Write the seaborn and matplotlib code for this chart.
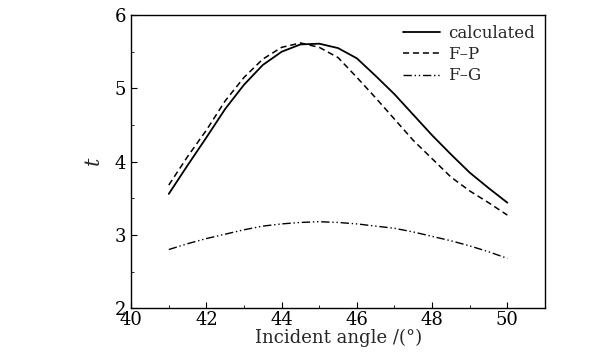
import matplotlib
matplotlib.use("Agg")
import matplotlib.pyplot as plt
import seaborn as sns
import pandas as pd
from matplotlib.ticker import MultipleLocator

angle = [41, 41.5, 42, 42.5, 43, 43.5, 44, 44.5, 45, 45.5, 46, 46.5, 47, 47.5, 48, 48.5, 49, 49.5, 50]
calculated = [3.56, 3.95, 4.33, 4.72, 5.05, 5.32, 5.50, 5.60, 5.61, 5.55, 5.41, 5.17, 4.92, 4.64, 4.36, 4.10, 3.85, 3.64, 3.44]
fp = [3.68, 4.07, 4.43, 4.83, 5.15, 5.40, 5.56, 5.62, 5.56, 5.42, 5.15, 4.87, 4.58, 4.29, 4.04, 3.79, 3.60, 3.44, 3.27]
fg = [2.80, 2.88, 2.95, 3.01, 3.07, 3.12, 3.15, 3.17, 3.18, 3.17, 3.15, 3.12, 3.09, 3.04, 2.98, 2.92, 2.85, 2.77, 2.68]

sns.set_style("ticks")
plt.rcParams['font.family'] = ['DejaVu Serif']
plt.rcParams['mathtext.fontset'] = 'dejavuserif'

fig = plt.figure(figsize=(6.13, 3.6), dpi=100)
ax = fig.add_axes([0.214, 0.144, 0.675, 0.814])

df = pd.DataFrame({"x": angle, "calculated": calculated, "F\u2013P": fp, "F\u2013G": fg})
sns.lineplot(data=df, x="x", y="calculated", ax=ax, color="black", lw=1.3, label="calculated")
sns.lineplot(data=df, x="x", y="F\u2013P", ax=ax, color="black", lw=1.1, linestyle=(0, (4, 2.5)), label="F\u2013P")
sns.lineplot(data=df, x="x", y="F\u2013G", ax=ax, color="black", lw=1.0, linestyle=(0, (6, 2, 1, 2, 1, 2)), label="F\u2013G")

ax.set_xlim(40, 51)
ax.set_ylim(2, 6)
ax.xaxis.set_major_locator(MultipleLocator(2))
ax.xaxis.set_minor_locator(MultipleLocator(1))
ax.yaxis.set_major_locator(MultipleLocator(1))
ax.yaxis.set_minor_locator(MultipleLocator(0.5))
ax.tick_params(which="both", direction="in", top=False, right=False, labelsize=13, colors="black")
ax.tick_params(which="major", length=4)
ax.tick_params(which="minor", length=2)
ax.tick_params(axis="x", pad=2)
for s in ax.spines.values():
    s.set_linewidth(1.0)
    s.set_color("black")
ax.set_xlabel("Incident angle /(°)", fontsize=13, labelpad=0)
ax.set_ylabel("$t$", fontsize=15, labelpad=8)
leg = ax.legend(loc="upper right", frameon=False, fontsize=12, handlelength=2.2,
                labelspacing=0.25, borderaxespad=0.2, handletextpad=0.5)
fig.savefig("out.png", dpi=100)
